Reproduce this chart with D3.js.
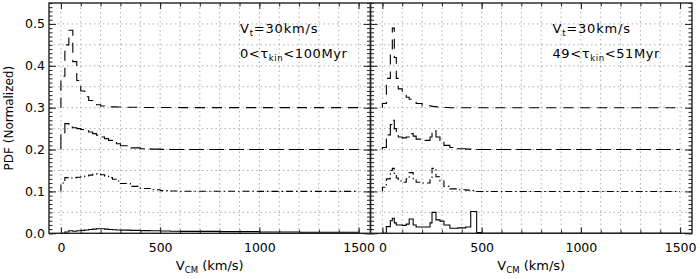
<!DOCTYPE html>
<html>
<head>
<meta charset="utf-8">
<script src="https://cdn.jsdelivr.net/npm/d3@7"></script>
<style>
    body { margin: 0; background: #fff; }
    svg text { font-family: "DejaVu Sans", Helvetica, Arial, sans-serif; fill: #000; }
</style>
</head>
<body>
<div class="chart"></div>
<script>
// bin edges (km/s) and normalized PDF per bin, one array per curve
var leftEdges = [0, 20, 40, 60, 80, 100, 120, 140, 160, 180, 200, 220, 240, 260, 280, 300,
    350, 400, 450, 500, 550, 600, 800, 1000, 1200, 1500];
var leftSolid = [0, 0.003, 0.006, 0.005, 0.006, 0.007, 0.008, 0.009, 0.010, 0.011, 0.011, 0.010, 0.009,
    0.0085, 0.008, 0.0075, 0.007, 0.0065, 0.006, 0.0055, 0.005, 0.0045, 0.004, 0.003, 0.0025];
var leftDashDot = [0.02, 0.033, 0.032, 0.033, 0.034, 0.035, 0.037, 0.039, 0.041, 0.042, 0.040, 0.037, 0.033,
    0.029, 0.025, 0.019, 0.012, 0.007, 0.004, 0.002, 0.001, 0.0005, 0.0003, 0.0002, 0.0001];
var leftLongDash = [0.04, 0.062, 0.054, 0.052, 0.050, 0.048, 0.045, 0.042, 0.038, 0.034, 0.030, 0.026, 0.022,
    0.018, 0.014, 0.009, 0.004, 0.002, 0.001, 0.0005, 0.0003, 0.0002, 0.0001, 0.0001, 0.0001];
var leftDashed = [0.075, 0.15, 0.185, 0.11, 0.065, 0.04, 0.026, 0.017, 0.011, 0.007, 0.004, 0.003, 0.002,
    0.002, 0.0015, 0.001, 0.001, 0.0005, 0.0005, 0.0003, 0.0003, 0.0002, 0.0001, 0.0001, 0.0001];

var rightEdges = [0, 20, 40, 50, 60, 70, 80, 100, 120, 135, 155, 170, 200, 240, 250, 270, 290, 310,
    340, 380, 420, 445, 475, 500, 1500];
var rightSolid = [0, 0.016, 0.03, 0.036, 0.025, 0.02, 0.02, 0.019, 0.022, 0.034, 0.02, 0.015, 0.015,
    0.025, 0.05, 0.032, 0.029, 0.02, 0.012, 0.013, 0.015, 0.052, 0.002, 0];
var rightDashDot = [0.01, 0.03, 0.05, 0.055, 0.04, 0.032, 0.025, 0.022, 0.03, 0.045, 0.03, 0.022, 0.02,
    0.03, 0.055, 0.035, 0.025, 0.012, 0.006, 0.004, 0.003, 0.002, 0, 0];
var rightLongDash = [0.005, 0.035, 0.06, 0.07, 0.05, 0.04, 0.03, 0.028, 0.03, 0.038, 0.032, 0.025, 0.022,
    0.03, 0.045, 0.03, 0.022, 0.01, 0.005, 0.002, 0.001, 0, 0, 0];
var rightDashed = [0.01, 0.07, 0.13, 0.19, 0.12, 0.07, 0.045, 0.035, 0.025, 0.02, 0.015, 0.01, 0.005,
    0.004, 0.003, 0.002, 0.001, 0.0005, 0, 0, 0, 0, 0, 0];

var offsets = [0, 0.1, 0.2, 0.3];
var dashStyles = [null, '7,3,1.5,3', '15,5', '10,7'];

var xTicks = [0, 500, 1000, 1500];
var yTicks = [0, 0.1, 0.2, 0.3, 0.4, 0.5];
var panelTitles = ['0<', '49<'];
var panelTitleEnds = ['<100Myr', '<51Myr'];

var width = 700, height = 279;
var plotTop = 3, plotBottom = 233.3;

var svg = d3.select('.chart').append('svg')
    .attr('width', width)
    .attr('height', height);

var y = d3.scaleLinear().domain([0, 0.55]).range([plotBottom, plotTop]);

var panels = [
    {x0: 49, x1: 370.5, edges: leftEdges, curves: [leftSolid, leftDashDot, leftLongDash, leftDashed]},
    {x0: 370.5, x1: 692, edges: rightEdges, curves: [rightSolid, rightDashDot, rightLongDash, rightDashed]}
];

function stepPoints(edges, vals, off) {
    var pts = [[edges[0], off]];
    for (var i = 0; i < vals.length; i++) {
        pts.push([edges[i], vals[i] + off]);
    }
    pts.push([edges[edges.length - 1], off]);
    return pts;
}

panels.forEach(function (p, pi) {
    var x = d3.scaleLinear().domain([-60, 1560]).range([p.x0, p.x1]);
    var g = svg.append('g');

    // dotted grid
    g.selectAll('.gv').data(d3.range(0, 1501, 100)).enter().append('line')
        .attr('x1', function (d) { return x(d); })
        .attr('x2', function (d) { return x(d); })
        .attr('y1', plotTop).attr('y2', plotBottom)
        .attr('stroke', '#999').attr('stroke-width', 0.8).attr('stroke-dasharray', '1.5,3');
    g.selectAll('.gh').data(d3.range(1, 11).map(function (k) { return k * 0.05; })).enter().append('line')
        .attr('x1', p.x0).attr('x2', p.x1)
        .attr('y1', function (d) { return y(d); })
        .attr('y2', function (d) { return y(d); })
        .attr('stroke', '#999').attr('stroke-width', 0.8).attr('stroke-dasharray', '1.5,3');

    // curves
    var line = d3.line()
        .x(function (d) { return x(d[0]); })
        .y(function (d) { return y(d[1]); })
        .curve(d3.curveStepAfter);
    p.curves.forEach(function (vals, ci) {
        g.append('path')
            .attr('d', line(stepPoints(p.edges, vals, offsets[ci])))
            .attr('fill', 'none')
            .attr('stroke', '#000')
            .attr('stroke-width', 1.1)
            .attr('stroke-dasharray', dashStyles[ci]);
    });

    // axes, ticks pointing inward
    var minorX = d3.range(0, 1501, 100);
    var minorY = d3.range(0, 56).map(function (k) { return k / 100; });

    g.append('g').attr('transform', 'translate(0,' + plotBottom + ')')
        .call(d3.axisBottom(x).tickValues(xTicks).tickSize(-6).tickPadding(10).tickFormat(d3.format('d')));
    g.append('g').attr('transform', 'translate(0,' + plotBottom + ')')
        .call(d3.axisBottom(x).tickValues(minorX).tickSize(-3.5).tickFormat(''));
    g.append('g').attr('transform', 'translate(0,' + plotTop + ')')
        .call(d3.axisTop(x).tickValues(xTicks).tickSize(-6).tickFormat(''));
    g.append('g').attr('transform', 'translate(0,' + plotTop + ')')
        .call(d3.axisTop(x).tickValues(minorX).tickSize(-3.5).tickFormat(''));

    g.append('g').attr('transform', 'translate(' + p.x0 + ',0)')
        .call(d3.axisLeft(y).tickValues(yTicks).tickSize(-7).tickPadding(4)
            .tickFormat(pi === 0 ? d3.format('.1f') : ''));
    g.append('g').attr('transform', 'translate(' + p.x0 + ',0)')
        .call(d3.axisLeft(y).tickValues(minorY).tickSize(-3.5).tickFormat(''));
    g.append('g').attr('transform', 'translate(' + p.x1 + ',0)')
        .call(d3.axisRight(y).tickValues(yTicks).tickSize(-7).tickFormat(''));
    g.append('g').attr('transform', 'translate(' + p.x1 + ',0)')
        .call(d3.axisRight(y).tickValues(minorY).tickSize(-3.5).tickFormat(''));

    g.selectAll('.domain').remove();
    g.selectAll('.tick line').attr('stroke', '#222');
    g.selectAll('.tick text').style('font-size', '12.5px').style('font-family', '"DejaVu Sans", sans-serif');

    g.append('rect')
        .attr('x', p.x0).attr('y', plotTop)
        .attr('width', p.x1 - p.x0).attr('height', plotBottom - plotTop)
        .attr('fill', 'none').attr('stroke', '#222').attr('stroke-width', 1.4);

    // x title
    var xt = g.append('text')
        .attr('x', (p.x0 + p.x1) / 2).attr('y', 270)
        .attr('text-anchor', 'middle')
        .style('font-size', '13px');
    xt.append('tspan').text('V');
    xt.append('tspan').attr('dy', 3).style('font-size', '8.5px').text('CM');
    xt.append('tspan').attr('dy', -3).text(' (km/s)');

    // panel annotation
    var tx = p.x0 + (pi === 0 ? 191 : 182);
    var t1 = g.append('text').attr('x', tx).attr('y', 33)
        .style('font-size', '13px').style('letter-spacing', '0.8px');
    t1.append('tspan').text('V');
    t1.append('tspan').attr('dy', 3).style('font-size', '8.5px').text('t');
    t1.append('tspan').attr('dy', -3).text('=30km/s');

    var t2 = g.append('text').attr('x', tx).attr('y', 58)
        .style('font-size', '13px').style('letter-spacing', '0.6px');
    t2.append('tspan').text(panelTitles[pi] + 'τ');
    t2.append('tspan').attr('dy', 3).style('font-size', '8.5px').text('kin');
    t2.append('tspan').attr('dy', -3).text(panelTitleEnds[pi]);
});

svg.append('text')
    .attr('transform', 'translate(13,' + ((plotTop + plotBottom) / 2) + ') rotate(-90)')
    .attr('text-anchor', 'middle')
    .style('font-size', '12px')
    .text('PDF (Normalized)');
</script>
</body>
</html>
